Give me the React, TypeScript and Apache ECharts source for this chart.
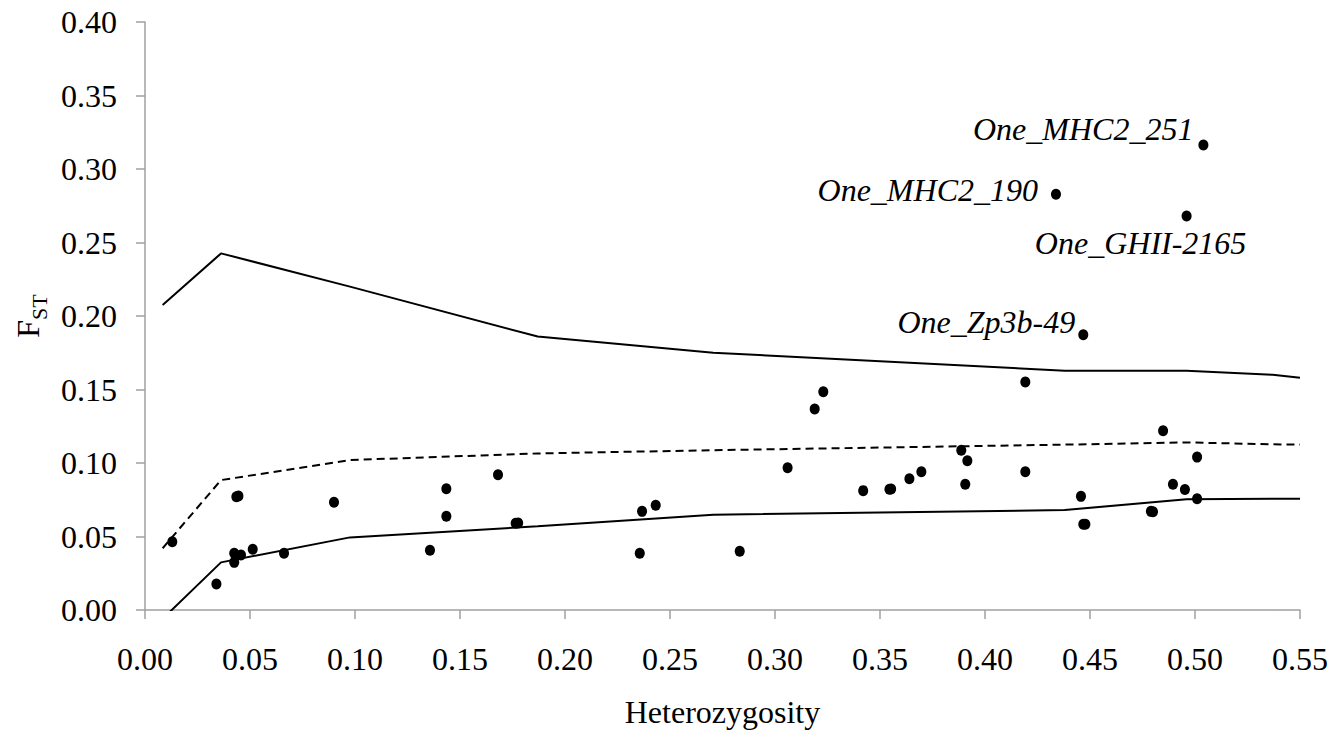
import React, { useEffect, useRef } from "react";
import * as echarts from "echarts";

// Scatter of loci: heterozygosity (x) vs FST (y)
const lociH = [0.013, 0.0435, 0.0445, 0.09, 0.034, 0.0425, 0.0425, 0.0457, 0.0513, 0.0662, 0.1357, 0.1435, 0.1435, 0.1681, 0.1765, 0.1777, 0.2367, 0.2432, 0.2356, 0.2832, 0.306, 0.3189, 0.323, 0.342, 0.3545, 0.3553, 0.364, 0.3697, 0.3887, 0.3916, 0.3906, 0.4192, 0.4848, 0.501, 0.4192, 0.4457, 0.4468, 0.4478, 0.479, 0.48, 0.4895, 0.4952, 0.501];
const lociF = [0.0465, 0.077, 0.0775, 0.0733, 0.0177, 0.0386, 0.0324, 0.0374, 0.0413, 0.0386, 0.0406, 0.0825, 0.0637, 0.092, 0.059, 0.0592, 0.0671, 0.0712, 0.0386, 0.0399, 0.0968, 0.1367, 0.1485, 0.0812, 0.0821, 0.0823, 0.0893, 0.0941, 0.1086, 0.1016, 0.0855, 0.1551, 0.122, 0.104, 0.0941, 0.0773, 0.0583, 0.0583, 0.0671, 0.0669, 0.0855, 0.0819, 0.0757];

// Named outlier loci
const outlierNames = ["One_MHC2_251", "One_MHC2_190", "One_GHII-2165", "One_Zp3b-49"];
const outlierH = [0.504, 0.4338, 0.496, 0.4468];
const outlierF = [0.3163, 0.2828, 0.268, 0.1873];

// Simulated quantile envelopes
const binH = [0.0084, 0.0362, 0.0976, 0.187, 0.2706, 0.438, 0.496, 0.537, 0.55];
const upperF = [0.2075, 0.2426, 0.22, 0.186, 0.175, 0.1628, 0.1628, 0.16, 0.158];
const medianF = [0.042, 0.0884, 0.102, 0.1065, 0.1087, 0.1125, 0.114, 0.1127, 0.1125];
const lowerF = [-0.006, 0.0324, 0.0494, 0.0569, 0.0648, 0.068, 0.0753, 0.0757, 0.0757];

const FONT = "'Liberation Serif', 'Times New Roman', serif";

const labelPlacement: Record<string, any> = {
  "One_MHC2_251": { position: "left", offset: [0, -16] },
  "One_MHC2_190": { position: "left", offset: [-8, -4] },
  "One_GHII-2165": { position: "bottom", offset: [-46, 0] },
  "One_Zp3b-49": { position: "left", offset: [2, -13] },
};

export default function App() {
  const ref = useRef<HTMLDivElement>(null);
  useEffect(() => {
    if (!ref.current) return;
    const chart = echarts.init(ref.current, undefined, { renderer: "svg" });
    const pairs = (xs: number[], ys: number[]) => xs.map((x, i) => [x, ys[i]]);
    const lineSeries = (ys: number[], dashed: boolean) => ({
      type: "line",
      data: pairs(binH, ys),
      symbol: "none",
      clip: true,
      lineStyle: { color: "#000", width: 2, type: dashed ? [8, 5] : "solid" },
      z: 2,
    });
    chart.setOption({
      animation: false,
      backgroundColor: "#fff",
      grid: { left: 145, right: 33, top: 22, bottom: 124, containLabel: false },
      xAxis: {
        type: "value",
        min: 0,
        max: 0.55,
        interval: 0.05,
        name: "Heterozygosity",
        nameLocation: "middle",
        nameGap: 86,
        nameTextStyle: { fontFamily: FONT, fontSize: 32, color: "#000" },
        axisLine: { show: true, onZero: false, lineStyle: { color: "#a0a0a0", width: 1.5 } },
        axisTick: { show: true, length: 9, lineStyle: { color: "#a0a0a0", width: 1.5 } },
        axisLabel: {
          fontFamily: FONT,
          fontSize: 32,
          color: "#000",
          margin: 33,
          formatter: (v: number) => v.toFixed(2),
        },
        splitLine: { show: false },
      },
      yAxis: {
        type: "value",
        min: 0,
        max: 0.4,
        interval: 0.05,
        name: "{f|F}{s|ST}",
        nameLocation: "middle",
        nameRotate: 90,
        nameGap: 98,
        nameTextStyle: {
          color: "#000",
          rich: {
            f: { fontFamily: FONT, fontSize: 32, color: "#000", verticalAlign: "bottom" },
            s: { fontFamily: FONT, fontSize: 22, color: "#000", verticalAlign: "bottom", padding: [0, 0, -6, 0] },
          },
        },
        axisLine: { show: true, lineStyle: { color: "#a0a0a0", width: 1.5 } },
        axisTick: { show: true, length: 9, lineStyle: { color: "#a0a0a0", width: 1.5 } },
        axisLabel: {
          fontFamily: FONT,
          fontSize: 32,
          color: "#000",
          margin: 28,
          formatter: (v: number) => v.toFixed(2),
        },
        splitLine: { show: false },
      },
      series: [
        lineSeries(upperF, false),
        lineSeries(medianF, true),
        lineSeries(lowerF, false),
        {
          type: "scatter",
          data: pairs(lociH, lociF),
          symbol: "circle",
          symbolSize: [10, 11],
          itemStyle: { color: "#000", opacity: 1 },
          z: 3,
        },
        {
          type: "scatter",
          data: outlierNames.map((n, i) => ({
            name: n,
            value: [outlierH[i], outlierF[i]],
            label: {
              show: true,
              formatter: "{b}",
              fontFamily: FONT,
              fontStyle: "italic",
              fontSize: 32,
              color: "#000",
              ...labelPlacement[n],
            },
          })),
          symbol: "circle",
          symbolSize: [10, 11],
          itemStyle: { color: "#000", opacity: 1 },
          z: 3,
        },
      ],
    });
    return () => chart.dispose();
  }, []);
  return (
    <div
      ref={ref}
      style={{ position: "fixed", left: 0, top: 0, width: 1333, height: 734, background: "#fff" }}
    />
  );
}
